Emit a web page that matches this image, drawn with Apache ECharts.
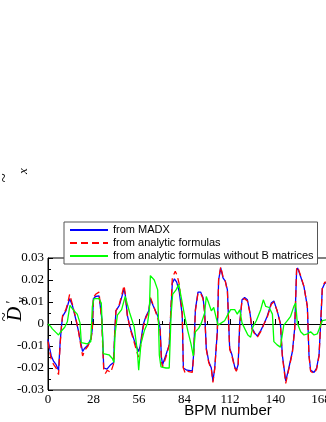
<!DOCTYPE html>
<html>
<head>
<meta charset="utf-8">
<script src="https://cdn.jsdelivr.net/npm/echarts@6/dist/echarts.min.js"></script>
<style>
html,body{margin:0;padding:0;background:#fff;}
#chart{width:326px;height:422px;}
</style>
</head>
<body>
<div id="chart"></div>
<script>
// values in units of 1e-3 at BPM positions
var xTicks = [0, 28, 56, 84, 112, 140, 168];

var madxPos = [0,1,2,3.5,5,6.5,7.5,8.3,9,11,12.3,13.3,15,17,18.7,20,21.3,22.6,24.6,26.5,27.3,27.9,29.3,31.4,32.6,33.2,34.3,36.3,38.6,40.4,41,41.8,43.9,45.3,46.8,47.6,48.8,50.5,53.3,55.6,56.6,58.7,60.3,62,63,64.6,67.6,69,69.8,70.5,72.6,74.6,75.5,76.5,77.8,79.2,80.8,82.6,83.3,85.5,88.8,89.6,90.7,92.3,93.9,95.4,96.4,97.4,98.9,100.5,101.5,102.6,104.2,105,106.3,107.7,109.1,110.4,111.8,113.2,114.9,115.9,117,118,119.4,121,122.7,124.1,125.6,127.2,128.8,130.9,132.9,134.9,137.4,139,141,143,144.2,146.3,148.2,150.4,151.8,153,153.6,155.5,157.5,159.6,160.6,161.6,163.7,165.3,166.8,167.8,168.8,170.3,172];
var madx = [-7,-11,-14.5,-17,-18.5,-21,-8,-1,3.5,6,9,11.5,8.5,2.5,-3,-8,-12.5,-11,-9.5,-6.5,-2,11.5,12.5,12.8,12,2,-20,-20.5,-18.5,-17.5,-5,6,8.5,12,16,13,4,-1.5,-8,-12.5,-10.5,0,3.5,6,11.5,8.5,3.5,-2,-15,-18.5,-14,-9.5,4,18.5,20.5,19,14.5,4,-20,-21,-21.3,-14,6.5,14.5,14.5,12,5.5,-11,-17,-20,-26,-20,-3.5,20,25.5,21,19.5,15.5,-11,-14,-19.5,-21,-18.5,0.5,11,12,11,6,-2,-4,-5.5,-3,0,3.5,9.5,10.5,6,0.5,-14,-26,-20,-12.5,-2,24.5,25.5,21.5,17,8,-14,-21,-22,-20,-14,0.5,16,18.5,19];

var analyticPos = [0,1,2,3.5,5,6.5,7.5,8.3,9,11,12.3,13.3,15,17,18.7,20,21.3,22.6,24.6,26.5,27.3,27.9,29.3,31.4,32.3,33,34.3,35.3,36.5,38.6,40.4,41,41.8,43.9,45.3,46.8,47.6,48.8,50.5,53.3,55.6,56.6,58.7,60.3,62,63,64.6,67.6,69,69.8,70.5,72.6,74.6,75.5,76.5,78.3,79.5,80.8,82.6,83.3,84.5,86,88.8,89.6,90.7,92.3,93.9,95.4,96.4,97.4,98.9,100.5,101.5,102.6,104.2,105,106.3,107.7,109.1,110.4,111.8,113.2,114.9,115.9,117,118,119.4,121,122.7,124.1,125.6,127.2,128.8,130.9,132.9,134.9,137.4,139,141,143,144.2,146.3,148.2,150.4,151.8,153,153.6,155.5,157.5,159.6,160.6,161.6,163.7,165.3,166.8,167.8,168.8,170.3,172];
var analytic = [-8,-12.5,-16,-18.5,-20,-23,-9,-1,4,6.5,10,13.5,9,3,-3,-9,-14.5,-12,-10,-7,-2,12,13.5,14.5,14.8,2,-21,-22.5,-21,-22,-18,-5,6,9,13,17.5,13.5,4,-2,-9,-15,-12,-1,3,5.5,12,9,2.5,-3,-17,-19.5,-15,-9.5,5,21,24,22,18,5,-20,-22.5,-21.5,-22,-15,6,14,14,11.5,5,-11.5,-17.5,-20.5,-26.5,-20.5,-3.5,20.5,26,21.5,19.5,15,-11.5,-14.5,-20,-21.5,-19,0,11,11.5,10.5,5.5,-2.5,-4.5,-6,-3.5,0,3,9,10,6,0,-14.5,-27,-20.5,-13,-2.5,25,26,22,17,8,-14.5,-21.5,-22.5,-20.5,-14.5,0.5,16.5,19,19];

var noBPos = [0,1.5,2.7,4.7,6.5,7.8,10.3,11.9,13.5,14.2,16,18,19.7,20.5,24.2,26.3,27.3,28.3,31.4,32.8,34,37.5,39.6,40.6,41.2,42.7,45.3,47.5,50.3,53.1,55,55.8,57.2,59.3,61.3,62.4,63,65.4,67.5,68.5,69.5,72.6,74.6,75.7,76.7,78.8,80.5,82,84,86,88,89.4,90.7,92.7,94.4,96.4,97.4,98.9,100.5,102,103.3,104.6,106.7,108.7,110.8,112.4,114.9,116.5,118,119.4,121,123,124.7,126,128.2,130.9,132.5,134,136.1,138.1,139,141,143,145.1,147.3,149.3,151.3,152.4,153.4,155.5,157.5,159.6,161.6,163.7,165.7,167.8,168.8,172];
var noB = [0,-1,-2.2,-3.7,-5,-3.5,-1.5,1,8.5,9,6,4.5,0.5,-8.5,-9,-8,8,11.5,11.5,9.5,-13.5,-14,-15.7,-17.5,-5,4,6.5,12.5,5,-1.5,-12.5,-21,-9,-3,0.5,6.5,22,20,15.5,-14,-19.5,-20,-20,3.5,13.5,15.5,18,12,4,-3,-9,-14.5,-3.5,-2,0.5,5,12.5,9.5,6,7.5,3.5,-0.5,0.5,1.5,4.5,6.5,6.5,4.5,6.5,0.5,-2,-5,-6,-1.5,1.5,6.5,11,8,7.5,4.5,-8,-9.5,-10.5,-0.5,1.5,3.5,8,9.5,0.5,-3.5,-5,-4.5,-3.5,-5,-4.5,-0.5,1.5,2];

function pairs(pos, vals) {
  var out = [];
  for (var i = 0; i < pos.length; i++) out.push([pos[i], vals[i] / 1000]);
  return out;
}

var serif = "'Liberation Serif','DejaVu Serif',serif";
var sans = "'Liberation Sans','DejaVu Sans',sans-serif";

var myChart = echarts.init(document.getElementById('chart'));
var option = {
  animation: false,
  backgroundColor: '#fff',
  grid: {
    left: 48, top: 258, width: 182 * 1.625, height: 132,
    outerBoundsMode: 'none', containLabel: false,
    show: true, borderColor: '#000', borderWidth: 1, backgroundColor: 'transparent'
  },
  legend: {
    orient: 'vertical',
    left: 64, top: 222,
    padding: [1.5, 4, 1.5, 5],
    itemWidth: 38, itemHeight: 10, itemGap: 0,
    backgroundColor: '#fff',
    borderColor: '#555', borderWidth: 1,
    itemStyle: { color: 'rgba(0,0,0,0)', borderWidth: 0, opacity: 0 },
    textStyle: { fontFamily: sans, fontSize: 11, lineHeight: 13, color: '#000' },
    data: ['from MADX', 'from analytic formulas', 'from analytic formulas without B matrices']
  },
  xAxis: {
    type: 'value', min: 0, max: 182, interval: 28,
    axisLine: { lineStyle: { color: '#000', width: 1 } },
    axisTick: { inside: true, length: 5, lineStyle: { color: '#000' } },
    minorTick: { show: true, splitNumber: 2, length: 3, lineStyle: { color: '#000' } },
    splitLine: { show: false },
    axisLabel: { fontFamily: serif, fontSize: 13, color: '#000', margin: 3,
      formatter: function (v) { return xTicks.indexOf(v) >= 0 ? String(v) : ''; } }
  },
  yAxis: {
    type: 'value', min: -0.03, max: 0.03, interval: 0.01,
    axisLine: { lineStyle: { color: '#000', width: 1 } },
    axisTick: { inside: true, length: 5, lineStyle: { color: '#000' } },
    minorTick: { show: true, splitNumber: 2, length: 3, lineStyle: { color: '#000' } },
    splitLine: { show: false },
    axisLabel: { fontFamily: serif, fontSize: 13, color: '#000', margin: 4,
      formatter: function (v) { return v === 0 ? '0' : String(Math.round(v * 100) / 100); } }
  },
  series: [
    { name: 'from MADX', type: 'line', data: pairs(madxPos, madx), symbol: 'none',
      lineStyle: { color: '#0000ff', width: 1.3 }, itemStyle: { color: '#0000ff' } },
    { name: 'from analytic formulas', type: 'line', data: pairs(analyticPos, analytic), symbol: 'none',
      lineStyle: { color: '#ff0000', width: 1.3, type: [7, 4] }, itemStyle: { color: '#ff0000' } },
    { name: 'from analytic formulas without B matrices', type: 'line', data: pairs(noBPos, noB), symbol: 'none',
      lineStyle: { color: '#00ff00', width: 1.3 }, itemStyle: { color: '#00ff00' } }
  ],
  graphic: [
    { type: 'text', x: 228, y: 411, style: { text: 'BPM number', font: '15px ' + sans, fill: '#000', align: 'center', verticalAlign: 'middle' } },
    // y-axis label: D tilde prime, subscript y (rotated)
    { type: 'text', x: 16, y: 314, rotation: Math.PI / 2, style: { text: 'D', font: 'italic 20px ' + serif, fill: '#000', align: 'center', verticalAlign: 'middle' } },
    { type: 'text', x: 5, y: 317, rotation: Math.PI / 2, style: { text: '~', font: '17px ' + serif, fill: '#000', align: 'center', verticalAlign: 'middle' } },
    { type: 'text', x: 12, y: 302, rotation: Math.PI / 2, style: { text: '\u2032', font: '14px ' + serif, fill: '#000', align: 'center', verticalAlign: 'middle' } },
    { type: 'text', x: 22, y: 300, rotation: Math.PI / 2, style: { text: 'y', font: 'italic 13px ' + serif, fill: '#000', align: 'center', verticalAlign: 'middle' } },
    // fragment of the upper panel's label
    { type: 'text', x: 5, y: 178, rotation: Math.PI / 2, style: { text: '~', font: '17px ' + serif, fill: '#000', align: 'center', verticalAlign: 'middle' } },
    { type: 'text', x: 24, y: 171, rotation: Math.PI / 2, style: { text: 'x', font: 'italic 13px ' + serif, fill: '#000', align: 'center', verticalAlign: 'middle' } }
  ]
};
myChart.setOption(option);
</script>
</body>
</html>
